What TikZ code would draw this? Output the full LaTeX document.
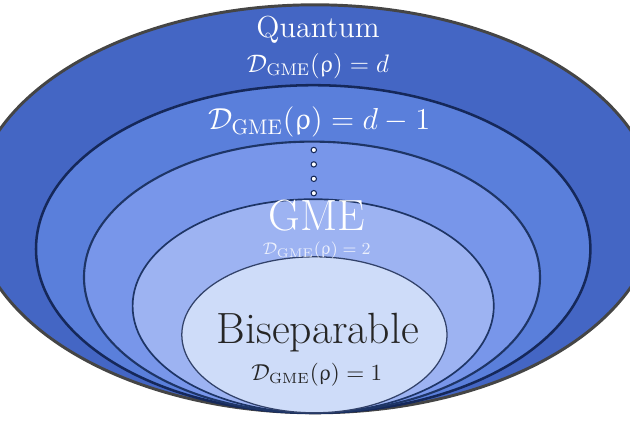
\documentclass[tikz,border=0pt]{standalone}
\definecolor{set_quantum}{RGB}{68, 102, 196}
\definecolor{set_dm}{RGB}{90, 127, 219}
\definecolor{set_mid}{RGB}{120, 150, 234}
\definecolor{set_gme}{RGB}{157, 179, 242}
\definecolor{set_bisep}{RGB}{206, 220, 249}
\definecolor{edge_grey}{RGB}{69, 69, 69}
\definecolor{edge_navy}{RGB}{21, 40, 90}
\definecolor{edge_mid}{RGB}{30, 53, 102}
\definecolor{edge_soft}{RGB}{50, 66, 106}
\usepackage{amsmath, amssymb}
\usepackage{upgreek}
\usepackage{tikz}
\usetikzlibrary{positioning}
\newcommand{\dgme}{\mathcal{D}_{\mathrm{GME}}(\uprho)}

\begin{document}
\begin{tikzpicture}[settext/.style={inner sep=0pt, anchor=base}]
    \useasboundingbox (0,0) rectangle (10.5,7);
    \clip (0,0) rectangle (10.5,7);

    \filldraw[fill=set_quantum, draw=edge_grey, line width=1.4pt] (5.25,3.52) ellipse (5.7 and 3.4);
    \filldraw[fill=set_dm,      draw=edge_navy, line width=1.2pt] (5.22,2.85) ellipse (4.62 and 2.73);
    \filldraw[fill=set_mid,     draw=edge_mid,  line width=1.0pt] (5.2,2.38)  ellipse (3.8 and 2.26);
    \filldraw[fill=set_gme,     draw=edge_mid,  line width=0.8pt] (5.22,1.9)  ellipse (3.01 and 1.78);
    \filldraw[fill=set_bisep,   draw=edge_soft, line width=0.6pt] (5.24,1.42) ellipse (2.21 and 1.3);

    \node[settext, white, font=\Large] (quantum) at (5.3,6.38) {Quantum};
    \node[settext, white, font=\fontsize{11.5}{14}\selectfont] (dimd) at (5.3,5.8) {$\dgme = d$};
    \node[settext, white, font=\Large] (dimdm) at (5.32,4.84) {$\dgme = d - 1$};

    % dots between the levels
    \foreach \k in {0,...,3}
        \filldraw[fill=white, draw=edge_navy, line width=0.5pt] (5.23,4.5-0.24*\k) circle (0.045);

    \node[settext, white, font=\huge] (gme) at (5.28,3.16) {GME};
    \node[settext, white, opacity=0.8, font=\fontsize{8.5}{10}\selectfont] (dimtwo) at (5.28,2.76) {$\dgme = 2$};

    \node[settext, black!85, font=\huge] (bisep) at (5.3,1.27) {Biseparable};
    \node[settext, black!85, font=\fontsize{10.5}{12}\selectfont] (dimone) at (5.28,0.66) {$\dgme = 1$};
\end{tikzpicture}
\end{document}
